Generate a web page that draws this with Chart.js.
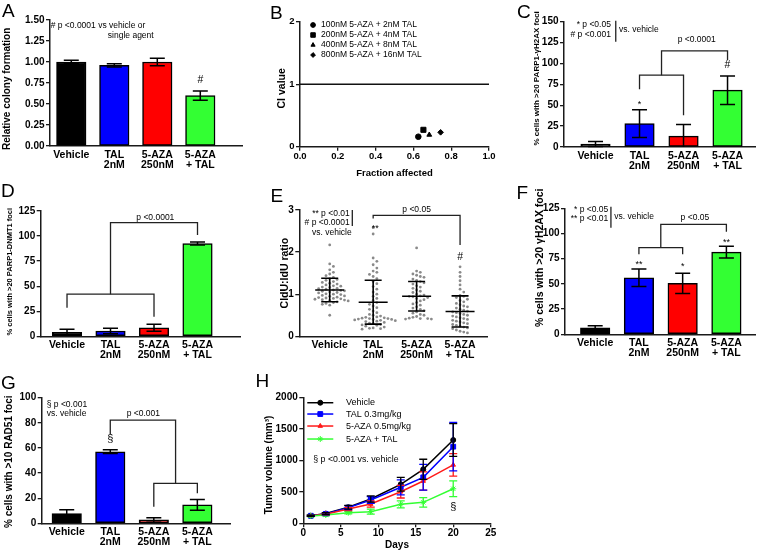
<!DOCTYPE html>
<html><head><meta charset="utf-8">
<script src="https://cdn.jsdelivr.net/npm/chart.js@4.4.1/dist/chart.umd.min.js"></script>
<style>
html,body{margin:0;padding:0;background:#fff;overflow:hidden;}
#fig{position:relative;width:757px;height:552px;background:#fff;overflow:hidden;}
#fig canvas{position:absolute;}
.lbl{position:absolute;font:19px "Liberation Sans",Arial,sans-serif;color:#000;line-height:1;}
</style></head><body><div id="fig"></div>
<script>
// ---------------- DATA ----------------
const groups = ['Vehicle', ['TAL','2nM'], ['5-AZA','250nM'], ['5-AZA','+ TAL']];
const barColors = ['#000000','#0000ff','#ff0000','#33ff33'];

const colonyMean = [1.00, 0.96, 1.00, 0.60];
const colonyErr  = [0.02, 0.02, 0.045, 0.055];

const ciLabels = ['100nM 5-AZA + 2nM TAL','200nM 5-AZA + 4nM TAL','400nM 5-AZA + 8nM TAL','800nM 5-AZA + 16nM TAL'];
const ciFa    = [0.626, 0.653, 0.684, 0.744];
const ciValue = [0.16, 0.27, 0.19, 0.23];
const ciRef   = 1;

const parpH2axMean = [3.5, 28, 13, 68];
const parpH2axErr  = [3, 16.5, 14, 17];

const parpDnmtMean = [4, 5.3, 8.5, 92.5];
const parpDnmtErr  = [3, 2.7, 3.5, 1.5];

const ratioVehicle = [2.17,1.72,1.66,1.58,1.52,1.48,1.44,1.40,1.37,1.35,1.33,1.30,1.28,1.26,1.24,1.22,1.20,1.19,1.17,1.16,1.14,1.13,1.12,1.10,1.09,1.08,1.07,1.05,1.04,1.03,1.01,1.00,0.99,0.97,0.96,0.95,0.93,0.92,0.91,0.90,0.89,0.88,0.87,0.86,0.85,0.84,0.82,0.80,0.78,0.76,0.74,0.50];
const ratioTal = [2.58,2.43,1.86,1.78,1.70,1.62,1.55,1.52,1.47,1.42,1.37,1.30,1.25,1.18,1.12,1.05,1.00,0.95,0.90,0.85,0.80,0.76,0.72,0.68,0.64,0.60,0.56,0.52,0.50,0.48,0.46,0.45,0.44,0.43,0.42,0.42,0.41,0.40,0.40,0.39,0.38,0.37,0.36,0.35,0.33,0.31,0.30,0.28,0.27,0.26,0.24,0.22,0.20,0.19,0.18,0.17];
const ratioAza = [2.10,1.55,1.52,1.48,1.45,1.42,1.40,1.36,1.33,1.30,1.27,1.24,1.20,1.17,1.14,1.10,1.07,1.04,1.00,0.98,0.96,0.95,0.94,0.92,0.90,0.87,0.84,0.80,0.77,0.74,0.70,0.67,0.64,0.61,0.58,0.55,0.52,0.50,0.47,0.45,0.43,0.42,0.42,0.41,0.41];
const ratioCombo = [1.65,1.52,1.42,1.32,1.22,1.12,1.05,0.97,0.95,0.92,0.88,0.85,0.82,0.78,0.75,0.72,0.70,0.67,0.64,0.62,0.60,0.58,0.56,0.54,0.52,0.50,0.48,0.46,0.44,0.42,0.40,0.38,0.36,0.34,0.32,0.30,0.28,0.26,0.24,0.22,0.20,0.18,0.15,0.12,0.10,0.08];
const ratioMean = [1.10, 0.81, 0.95, 0.59];
const ratioSD   = [0.28, 0.52, 0.35, 0.37];

const h2axMean = [6.5, 56, 50.5, 81.5];
const h2axErr  = [2, 8.7, 10, 5.8];

const rad51Mean = [7.7, 57, 2.7, 14.7];
const rad51Err  = [3, 1.5, 1.8, 4.3];

const days = [1, 3, 6, 9, 13, 16, 20];
const tumorSeries = ['Vehicle','TAL 0.3mg/kg','5-AZA 0.5mg/kg','5-AZA + TAL'];
const tumorVehicle    = [120, 155, 255, 387, 621, 860, 1326];
const tumorVehicleErr = [10, 15, 30, 50, 110, 160, 260];
const tumorTal        = [120, 150, 250, 371, 573, 732, 1220];
const tumorTalErr     = [10, 15, 30, 55, 120, 205, 385];
const tumorAza        = [120, 145, 228, 307, 503, 673, 930];
const tumorAzaErr     = [10, 15, 25, 50, 100, 145, 180];
const tumorCombo      = [118, 132, 169, 185, 302, 334, 550];
const tumorComboErr   = [10, 12, 20, 40, 55, 75, 125];

// ---------------- SETUP ----------------
const FONT = '"Liberation Sans", Arial, Helvetica, sans-serif';
Chart.defaults.font.family = FONT;
Chart.defaults.color = '#000';
const AX = '#1a1a1a';
const fig = document.getElementById('fig');

const overlay = {
  id: 'overlay',
  afterDatasetsDraw(chart, args, o) {
    const ctx = chart.ctx, xs = chart.scales.x, ys = chart.scales.y;
    const X = v => xs.getPixelForValue(v), Y = v => ys.getPixelForValue(v);
    ctx.save();
    ctx.lineCap = 'butt';
    // error bars
    chart.data.datasets.forEach((ds, di) => {
      if (!ds.errors) return;
      const meta = chart.getDatasetMeta(di);
      ctx.strokeStyle = ds.errColor || '#000';
      ctx.lineWidth = o.errWidth || 1.5;
      const c = (o.cap || 14) / 2;
      meta.data.forEach((el, j) => {
        const v = ds.data[j].y, e = ds.errors[j];
        const lo = Math.max(v - e, ys.min);
        const x = el.x, y1 = Y(lo), y2 = Y(v + e);
        ctx.beginPath();
        ctx.moveTo(x, y1); ctx.lineTo(x, y2);
        ctx.moveTo(x - c, y2); ctx.lineTo(x + c, y2);
        if (v - e > ys.min) { ctx.moveTo(x - c, y1); ctx.lineTo(x + c, y1); }
        ctx.stroke();
      });
    });
    // mean +/- SD
    if (o.meanSD) {
      const m = o.meanSD;
      ctx.strokeStyle = '#000'; ctx.lineWidth = 1.6;
      m.means.forEach((mv, i) => {
        const x = X(i), s = m.sds[i];
        ctx.beginPath();
        ctx.moveTo(x - m.half, Y(mv)); ctx.lineTo(x + m.half, Y(mv));
        ctx.moveTo(x, Y(mv - s)); ctx.lineTo(x, Y(mv + s));
        ctx.moveTo(x - m.cap, Y(mv - s)); ctx.lineTo(x + m.cap, Y(mv - s));
        ctx.moveTo(x - m.cap, Y(mv + s)); ctx.lineTo(x + m.cap, Y(mv + s));
        ctx.stroke();
      });
    }
    // brackets / lines
    ctx.strokeStyle = '#222'; ctx.lineWidth = 1.3;
    (o.lines || []).forEach(pts => {
      ctx.beginPath();
      pts.forEach((p, i) => i ? ctx.lineTo(X(p[0]), Y(p[1])) : ctx.moveTo(X(p[0]), Y(p[1])));
      ctx.stroke();
    });
    // legend
    if (o.legend) {
      const L = o.legend;
      L.labels.forEach((lab, i) => {
        const y = Y(L.ys[i]);
        const st = L.styles[i];
        ctx.strokeStyle = st.color; ctx.fillStyle = st.color;
        let mx = X(L.mx || 0);
        if (L.line) {
          ctx.lineWidth = 1.5;
          ctx.beginPath(); ctx.moveTo(X(L.line[0]), y); ctx.lineTo(X(L.line[1]), y); ctx.stroke();
          mx = (X(L.line[0]) + X(L.line[1])) / 2;
        }
        ctx.lineWidth = 1;
        Chart.helpers.drawPoint(ctx, {pointStyle: st.pointStyle, radius: st.radius, rotation: 0, borderWidth: 1}, mx, y);
        ctx.fillStyle = '#000';
        ctx.font = (L.size || 8.5) + 'px ' + FONT;
        ctx.textAlign = 'left'; ctx.textBaseline = 'middle';
        ctx.fillText(lab, X(L.tx), y);
      });
    }
    // texts
    (o.texts || []).forEach(t => {
      ctx.fillStyle = '#000';
      ctx.font = (t.bold ? 'bold ' : '') + (t.size || 8.5) + 'px ' + FONT;
      ctx.textAlign = t.align || 'center'; ctx.textBaseline = 'middle';
      ctx.fillText(t.t, X(t.x), Y(t.y));
    });
    // rotated y-axis title
    if (o.ytitle) {
      const tt = chart.options.scales.y.title;
      ctx.save();
      ctx.translate(o.ytitle.x, Y(o.ytitle.yv));
      ctx.rotate(-Math.PI / 2);
      ctx.fillStyle = '#000';
      ctx.font = 'bold ' + tt.font.size + 'px ' + FONT;
      ctx.textAlign = 'center'; ctx.textBaseline = 'middle';
      ctx.fillText(tt.text, 0, 0);
      ctx.restore();
    }
    ctx.restore();
  }
};

function panel(g, config) {
  const cv = document.createElement('canvas');
  const top = Math.round(g.t) - 26;
  const w = Math.ceil(g.r + 10 - g.cl), h = Math.ceil(g.cb - top);
  cv.width = w; cv.height = h;
  cv.style.left = g.cl + 'px'; cv.style.top = top + 'px';
  cv.style.width = w + 'px'; cv.style.height = h + 'px';
  fig.appendChild(cv);
  const o = config.options;
  o.responsive = false; o.animation = false; o.events = [];
  o.layout = {padding: {left: 0, top: g.t - top, right: w - (g.r - g.cl), bottom: 0}};
  o.plugins = Object.assign({legend: {display: false}, tooltip: {enabled: false}}, o.plugins || {});
  o.plugins.overlay = Object.assign({}, o.plugins.overlay || {}, {ytitle: {x: g.tx - g.cl, yv: g.tyv}});
  o.scales.y.afterFit = s => { s.width = g.l - g.cl; };
  o.scales.x.afterFit = s => { s.height = h - (g.b - top); };
  config.plugins = [overlay];
  return new Chart(cv, config);
}

function yScale(max, step, title, tsize, fmt, tickSize) {
  return {
    type: 'linear', min: 0, max: max,
    ticks: {stepSize: step, padding: 1.5, color: '#000', font: {size: tickSize || 10, weight: 'bold'},
            callback: fmt || (v => v)},
    grid: {display: true, drawOnChartArea: false, drawTicks: true, tickLength: 4, color: AX, lineWidth: 1.3},
    border: {display: true, color: AX, width: 1.5},
    title: {display: false, text: title, font: {size: tsize, weight: 'bold'}}
  };
}

function catScale(min, max) {
  return {
    type: 'linear', min: min, max: max, offset: false,
    afterBuildTicks: s => { s.ticks = groups.map((_, i) => ({value: i})); },
    ticks: {autoSkip: false, maxRotation: 0, padding: 4, color: '#000',
            font: {size: 10.5, weight: 'bold', lineHeight: 0.95}, callback: v => groups[v]},
    grid: {display: false, drawTicks: false, tickLength: 0},
    border: {display: true, color: AX, width: 1.5}
  };
}

function barConfig(means, errs, xr, y, ov) {
  return {
    type: 'bar',
    data: {datasets: [{
      data: means.map((v, i) => ({x: i, y: v})), errors: errs,
      backgroundColor: barColors, borderColor: '#000', borderWidth: 1.5,
      borderSkipped: false, barThickness: 29.5
    }]},
    options: {scales: {x: catScale(xr[0], xr[1]), y: y}, plugins: {overlay: Object.assign({cap: 15}, ov)}}
  };
}

// ---------------- PANEL A ----------------
panel({cl: 2, l: 50, t: 20, r: 242.7, b: 146, cb: 176, tx: 7.7, tyv: 0.681},
  barConfig(colonyMean, colonyErr, [-0.495, 3.986],
    yScale(1.5, 0.25, 'Relative colony formation', 10, v => v.toFixed(2)),
    {texts: [
      {t: '# p <0.0001 vs vehicle or', x: -0.48, y: 1.43, align: 'left'},
      {t: 'single agent', x: 0.85, y: 1.31, align: 'left'},
      {t: '#', x: 3, y: 0.79, size: 10.5}
    ]}));

// ---------------- PANEL B ----------------
const ciStyles = [
  {pointStyle: 'circle', radius: 2.8, color: '#000'},
  {pointStyle: 'rect', radius: 3.6, color: '#000'},
  {pointStyle: 'triangle', radius: 2.8, color: '#000'},
  {pointStyle: 'rectRot', radius: 2.8, color: '#000'}
];
panel({cl: 276, l: 300, t: 21.7, r: 489, b: 146.7, cb: 179, tx: 282.5, tyv: 0.934}, {
  type: 'scatter',
  data: {datasets: ciLabels.map((lab, i) => ({
      label: lab, data: [{x: ciFa[i], y: ciValue[i]}],
      pointStyle: ciStyles[i].pointStyle, pointRadius: ciStyles[i].radius,
      pointBackgroundColor: '#000', pointBorderColor: '#000', pointBorderWidth: 1
    })).concat([{type: 'line', data: [{x: 0, y: ciRef}, {x: 1, y: ciRef}], borderColor: '#111', borderWidth: 1.4, pointRadius: 0}])},
  options: {
    scales: {
      x: {type: 'linear', min: 0, max: 1,
          ticks: {stepSize: 0.2, padding: 0, color: '#000', font: {size: 9.5, weight: 'bold'}, callback: v => v.toFixed(1)},
          grid: {display: true, drawOnChartArea: false, drawTicks: true, tickLength: 4, color: AX, lineWidth: 1.3},
          border: {display: true, color: AX, width: 1.5},
          title: {display: true, text: 'Fraction affected', color: '#000', padding: {top: 0, bottom: 0}, font: {size: 9.5, weight: 'bold'}}},
      y: yScale(2, 1, 'CI value', 10.5, v => v, 9.5)
    },
    plugins: {overlay: {legend: {labels: ciLabels, styles: [
        {pointStyle: 'circle', radius: 2.4, color: '#000'},
        {pointStyle: 'rect', radius: 3.2, color: '#000'},
        {pointStyle: 'triangle', radius: 2.4, color: '#000'},
        {pointStyle: 'rectRot', radius: 2.4, color: '#000'}],
      mx: 0.069, tx: 0.111, ys: [1.947, 1.787, 1.627, 1.467], size: 8.5}}}
  }
});

// ---------------- PANEL C ----------------
panel({cl: 532, l: 564, t: 21.7, r: 755.7, b: 147, cb: 177, tx: 536.7, tyv: 82.2},
  barConfig(parpH2axMean, parpH2axErr, [-0.716, 3.64],
    yScale(150, 25, '% cells with >20 PARP1-\u03b3H2AX foci', 8),
    {lines: [
      [[0.46, 151], [0.46, 126]],
      [[1, 69], [1, 86], [2, 86], [2, 38]],
      [[1.5, 86], [1.5, 115], [3, 115], [3, 104]]
    ], texts: [
      {t: '* p <0.05', x: 0.35, y: 146, align: 'right'},
      {t: '# p <0.001', x: 0.35, y: 134, align: 'right'},
      {t: 'vs. vehicle', x: 0.534, y: 140, align: 'left'},
      {t: 'p <0.0001', x: 2.3, y: 129},
      {t: '*', x: 1, y: 51, size: 9},
      {t: '#', x: 3, y: 98, size: 10.5}
    ]}));

// ---------------- PANEL D ----------------
panel({cl: 5, l: 40.7, t: 211, r: 240, b: 336.3, cb: 366, tx: 9.5, tyv: 64.4},
  barConfig(parpDnmtMean, parpDnmtErr, [-0.605, 3.977],
    yScale(125, 25, '% cells with >20 PARP1-DNMT1 foci', 7.5),
    {lines: [
      [[0, 28.5], [0, 42], [2, 42], [2, 19.5]],
      [[1, 42], [1, 113.4], [3, 113.4], [3, 101]]
    ], texts: [
      {t: 'p <0.0001', x: 2.03, y: 118.3}
    ]}));

// ---------------- PANEL E ----------------
function swarm(vals, idx, xStep, yTol) {
  const placed = [];
  vals.slice().sort((a, b) => b - a).forEach(v => {
    for (let k = 0; k < 60; k++) {
      const off = k === 0 ? 0 : (k % 2 ? 1 : -1) * Math.ceil(k / 2) * xStep;
      const ok = placed.every(p => {
        const dx = (p.x - off) / xStep, dy = (p.y - v) / yTol;
        return dx * dx + dy * dy >= 0.999;
      });
      if (ok) { placed.push({x: off, y: v}); break; }
    }
  });
  return placed.map(p => ({x: idx + p.x, y: p.y}));
}
const ratioGroups = [ratioVehicle, ratioTal, ratioAza, ratioCombo];
panel({cl: 279, l: 299.3, t: 210, r: 487, b: 336.3, cb: 366, tx: 285.5, tyv: 1.50}, {
  type: 'scatter',
  data: {datasets: ratioGroups.map((vals, i) => ({
    data: swarm(vals, i, 0.085, 0.095), pointRadius: 1.4,
    pointBackgroundColor: '#8a8a8a', pointBorderWidth: 0
  }))},
  options: {
    scales: {x: catScale(-0.70, 3.62), y: yScale(3, 1, 'CldU:IdU ratio', 10.5)},
    plugins: {overlay: {
      meanSD: {means: ratioMean, sds: ratioSD, half: 14.5, cap: 8.5},
      lines: [
        [[0.52, 3.0], [0.52, 2.62]],
        [[1, 2.8], [1, 2.87], [3, 2.87], [3, 2.17]]
      ],
      texts: [
        {t: '** p <0.01', x: 0.46, y: 2.92, align: 'right'},
        {t: '# p <0.0001', x: 0.46, y: 2.70, align: 'right'},
        {t: 'vs. vehicle', x: 0.506, y: 2.45, align: 'right'},
        {t: 'p <0.05', x: 2.0, y: 3.0},
        {t: '**', x: 1.05, y: 2.55, size: 9},
        {t: '#', x: 3, y: 1.89, size: 10.5}
      ]}}
  }
});

// ---------------- PANEL F ----------------
panel({cl: 535, l: 565, t: 208.3, r: 755.7, b: 334.3, cb: 364, tx: 540.5, tyv: 75.9},
  barConfig(h2axMean, h2axErr, [-0.69, 3.67],
    yScale(125, 25, '% cells with >20 \u03b3H2AX foci', 10.5),
    {lines: [
      [[0.36, 126.6], [0.36, 105.8]],
      [[1, 79.4], [1, 86], [2, 86], [2, 79.4]],
      [[1.5, 86], [1.5, 109], [3, 109], [3, 101.8]]
    ], texts: [
      {t: '* p <0.05', x: 0.30, y: 124, align: 'right'},
      {t: '** p <0.01', x: 0.30, y: 115, align: 'right'},
      {t: 'vs. vehicle', x: 0.435, y: 116.7, align: 'left'},
      {t: 'p <0.05', x: 2.28, y: 115.7},
      {t: '**', x: 1, y: 69.5, size: 9},
      {t: '*', x: 2, y: 67.5, size: 9},
      {t: '**', x: 3, y: 91.5, size: 9}
    ]}));

// ---------------- PANEL G ----------------
panel({cl: 4, l: 41.7, t: 397.7, r: 230, b: 523.3, cb: 552, tx: 9.5, tyv: 49},
  barConfig(rad51Mean, rad51Err, [-0.575, 3.75],
    yScale(100, 20, '% cells with >10 RAD51 foci', 10),
    {lines: [
      [[2, 13.2], [2, 31.8], [3, 31.8], [3, 23.9]],
      [[2.5, 31.8], [2.5, 82.2], [1, 82.2], [1, 71.1]]
    ], texts: [
      {t: '\u00a7 p <0.001', x: -0.46, y: 94.7, align: 'left'},
      {t: 'vs. vehicle', x: -0.46, y: 87.6, align: 'left'},
      {t: 'p <0.001', x: 1.76, y: 87.6},
      {t: '\u00a7', x: 1, y: 66.9, size: 11}
    ]}));

// ---------------- PANEL H ----------------
const tumorStyles = [
  {pointStyle: 'circle', radius: 2.5, color: '#000000'},
  {pointStyle: 'rect', radius: 3.4, color: '#0000ff'},
  {pointStyle: 'triangle', radius: 2.6, color: '#ff1a1a'},
  {pointStyle: 'star', radius: 3, color: '#33ff33'}
];
const tumorVals = [tumorVehicle, tumorTal, tumorAza, tumorCombo];
const tumorErrs = [tumorVehicleErr, tumorTalErr, tumorAzaErr, tumorComboErr];
panel({cl: 263, l: 303.3, t: 397.7, r: 490.7, b: 523.3, cb: 550.3, tx: 269, tyv: 928}, {
  type: 'line',
  data: {datasets: tumorSeries.map((lab, i) => ({
    label: lab, data: days.map((d, j) => ({x: d, y: tumorVals[i][j]})), errors: tumorErrs[i],
    errColor: tumorStyles[i].color, borderColor: tumorStyles[i].color, borderWidth: 1.5,
    pointStyle: tumorStyles[i].pointStyle, pointRadius: tumorStyles[i].radius,
    pointBackgroundColor: tumorStyles[i].color, pointBorderColor: tumorStyles[i].color,
    pointBorderWidth: 1, tension: 0, fill: false
  })).reverse()},
  options: {
    scales: {
      x: {type: 'linear', min: 0, max: 25,
          ticks: {stepSize: 5, padding: 0, color: '#000', font: {size: 10, weight: 'bold'}},
          grid: {display: true, drawOnChartArea: false, drawTicks: true, tickLength: 4, color: AX, lineWidth: 1.3},
          border: {display: true, color: AX, width: 1.5},
          title: {display: true, text: 'Days', color: '#000', padding: {top: 0, bottom: 0}, font: {size: 10, weight: 'bold'}}},
      y: yScale(2000, 500, 'Tumor volume (mm\u00b3)', 10, v => v, 10)
    },
    plugins: {overlay: {
      cap: 8, errWidth: 1.3,
      legend: {labels: tumorSeries, styles: tumorStyles, line: [0.53, 4.0], tx: 5.7, ys: [1920, 1740, 1549, 1342], size: 9},
      texts: [
        {t: '\u00a7 p <0.001 vs. vehicle', x: 1.33, y: 1019, align: 'left', size: 8.8},
        {t: '\u00a7', x: 20, y: 260, size: 11}
      ]}}
  }
});

// ---------------- PANEL LETTERS ----------------
[['A', 2, 0.5], ['B', 270, 2.5], ['C', 517, 1.5], ['D', 1, 180.5],
 ['E', 270.5, 185.5], ['F', 516.5, 182.5], ['G', 1, 372.5], ['H', 255.5, 370.5]].forEach(([t, x, y]) => {
  const d = document.createElement('div');
  d.className = 'lbl'; d.textContent = t;
  d.style.left = x + 'px'; d.style.top = y + 'px';
  fig.appendChild(d);
});
</script></body></html>
